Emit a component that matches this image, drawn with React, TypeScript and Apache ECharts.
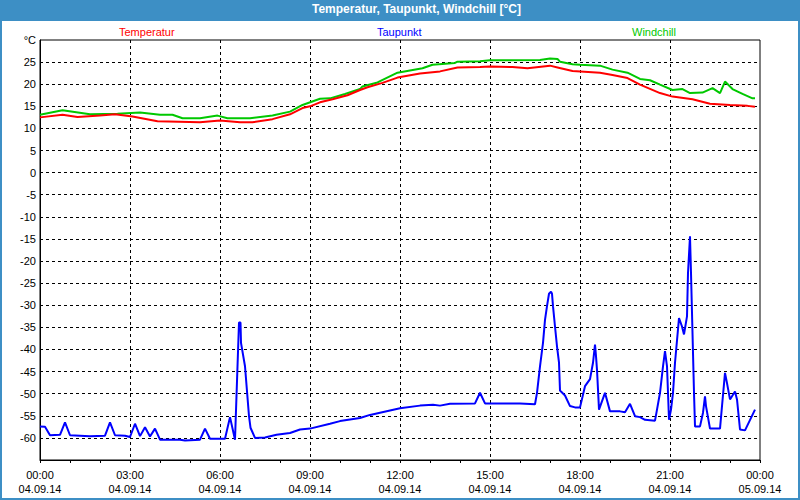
import React, { useEffect, useRef } from "react";
import * as echarts from "echarts";

// ---- data ----
const titleText = "Temperatur, Taupunkt, Windchill [°C]";
const seriesNames = ["Temperatur", "Taupunkt", "Windchill"];

const xTickTimes = ["00:00", "03:00", "06:00", "09:00", "12:00", "15:00", "18:00", "21:00", "00:00"];
const xTickDates = ["04.09.14", "04.09.14", "04.09.14", "04.09.14", "04.09.14", "04.09.14", "04.09.14", "04.09.14", "05.09.14"];
const yUnitLabel = "°C";

const tempTimes = ["00:00","00:45","01:15","02:00","02:30","03:05","03:55","05:20","06:00","06:40","07:05","07:45","08:20","08:45","09:00","09:20","09:45","10:15","10:40","10:55","11:25","11:55","12:40","13:20","13:55","14:40","15:00","15:45","16:15","17:00","17:15","17:45","18:40","19:05","19:35","20:00","20:40","21:05","21:45","22:20","23:00","23:35","23:50"];
const tempValues = [12.5,13.1,12.6,12.9,13.2,12.7,11.6,11.4,11.8,11.4,11.4,12.1,13.2,14.6,15.0,15.9,16.6,17.5,18.7,19.3,20.3,21.5,22.4,22.9,23.8,23.9,24.0,23.9,23.6,24.2,23.8,23.0,22.6,22.1,21.4,19.9,18.0,17.2,16.6,15.6,15.3,15.1,14.9];

const chillTimes = ["00:00","00:45","01:40","02:35","03:20","04:00","04:25","04:45","05:20","05:55","06:15","07:00","07:45","08:20","08:45","09:20","09:40","10:10","10:40","10:45","11:15","11:55","12:45","13:05","13:50","13:55","14:40","15:00","16:40","17:00","17:15","17:20","17:45","18:00","18:40","19:05","19:35","20:00","20:20","20:40","21:05","21:25","21:40","22:05","22:25","22:40","22:50","23:05","23:25","23:45","23:50"];
const chillValues = [13.1,14.1,13.2,13.3,13.6,13.1,13.1,12.3,12.3,12.9,12.3,12.3,12.9,13.8,15.3,16.7,16.8,17.8,18.9,19.5,20.4,22.6,23.6,24.4,24.8,25.1,25.2,25.4,25.5,25.8,25.7,25.1,24.5,24.4,24.2,23.3,22.6,21.2,20.9,19.9,18.7,18.9,18.0,18.1,19.1,18.0,20.6,18.9,17.8,16.8,16.8];

const dewTimes = ["00:00","00:10","00:20","00:40","00:50","01:00","01:20","01:40","02:10","02:20","02:30","02:50","03:00","03:10","03:20","03:30","03:40","03:50","04:00","04:40","04:50","05:20","05:30","05:40","06:10","06:20","06:30","06:38","06:41","06:42","06:50","06:58","07:01","07:10","07:30","07:53","08:20","08:40","09:00","09:40","10:00","10:40","11:00","11:40","12:00","12:40","13:06","13:20","13:40","14:30","14:40","14:50","16:00","16:30","16:34","16:40","16:46","16:50","16:54","16:58","17:02","17:04","17:06","17:10","17:14","17:18","17:20","17:30","17:40","17:50","18:00","18:10","18:20","18:26","18:30","18:32","18:34","18:38","18:50","19:00","19:20","19:30","19:40","19:50","20:00","20:10","20:30","20:34","20:40","20:46","20:50","20:54","20:56","20:58","21:02","21:06","21:10","21:18","21:24","21:28","21:34","21:36","21:40","21:42","21:44","21:46","21:48","21:50","22:00","22:06","22:10","22:12","22:20","22:40","22:44","22:50","22:54","23:00","23:10","23:14","23:20","23:30","23:50"];
const dewValues = [-57.4,-57.5,-59.4,-59.3,-56.5,-59.4,-59.5,-59.6,-59.5,-56.5,-59.4,-59.5,-59.8,-56.8,-59.6,-57.6,-59.7,-57.9,-60.4,-60.4,-60.6,-60.4,-57.9,-60.2,-60.2,-55.3,-60.4,-33.9,-33.9,-38.5,-43.8,-55.1,-57.7,-60.0,-59.9,-59.3,-58.9,-58.1,-57.9,-56.8,-56.2,-55.5,-54.8,-53.8,-53.3,-52.7,-52.5,-52.7,-52.3,-52.2,-49.8,-52.2,-52.2,-52.4,-49.8,-43.8,-38.5,-33.3,-30.2,-27.4,-26.9,-27.4,-30.2,-34.8,-39.3,-43.0,-49.3,-50.4,-52.8,-53.1,-53.1,-48.3,-46.7,-43.0,-38.9,-41.5,-44.6,-53.6,-49.8,-54.0,-54.0,-54.2,-52.3,-55.1,-55.3,-55.9,-56.1,-53.6,-49.8,-43.8,-40.4,-43.8,-49.8,-55.9,-53.6,-49.8,-43.0,-32.9,-34.8,-36.6,-32.5,-22.7,-14.4,-22.7,-31.7,-40.8,-49.8,-57.4,-57.4,-54.3,-50.6,-52.8,-57.9,-57.9,-52.8,-45.3,-47.6,-51.3,-49.5,-51.3,-58.1,-58.3,-53.6];

// ---- helpers ----
const toMin = (s: string) => {
  const [h, m] = s.split(":").map(Number);
  return h * 60 + m;
};
const pairs = (times: string[], values: number[]) => times.map((t, i) => [toMin(t), values[i]]);

const FONT = "'Liberation Sans', Arial, sans-serif";

export default function App() {
  const ref = useRef<HTMLDivElement>(null);
  useEffect(() => {
    document.body.style.margin = "0";
    if (!ref.current) return;
    const chart = echarts.init(ref.current, undefined, { renderer: "svg" });
    const colors = ["#ff0000", "#0000ff", "#00c800"];
    const legendLefts = [114, 372, 627];
    chart.setOption({
      animation: false,
      backgroundColor: "#ffffff",
      title: {
        text: titleText,
        left: 312,
        top: 3,
        padding: 0,
        textStyle: { color: "#ffffff", fontSize: 12, fontWeight: "bold", fontFamily: FONT },
      },
      graphic: [
        { type: "rect", z: -10, shape: { x: 0, y: 0, width: 800, height: 21 }, style: { fill: "#3d8fc5" } },
        { type: "rect", z: 100, shape: { x: 1, y: 0, width: 798, height: 499 }, style: { fill: "none", stroke: "#3d8fc5", lineWidth: 2 } },
      ],
      legend: seriesNames.map((n, i) => ({
        left: legendLefts[i],
        top: 26,
        padding: 0,
        itemWidth: 0,
        itemHeight: 0,
        selectedMode: false,
        icon: "rect",
        data: [{ name: n, textStyle: { color: colors[i] } }],
        textStyle: { color: colors[i], fontSize: 11, fontFamily: FONT },
      })),
      grid: {
        left: 40,
        top: 40,
        width: 720,
        height: 420,
        show: true,
        borderColor: "#000",
        borderWidth: 1,
        backgroundColor: "#ffffff",
        containLabel: false,
      },
      xAxis: {
        type: "value",
        min: 0,
        max: 1440,
        interval: 180,
        axisLine: { show: true, onZero: false, lineStyle: { color: "#000", width: 1 } },
        axisTick: { show: true, length: 3, lineStyle: { color: "#000" } },
        minorTick: { show: true, splitNumber: 3, length: 3, lineStyle: { color: "#000" } },
        splitLine: { show: true, showMinLine: false, showMaxLine: false, lineStyle: { color: "#000", type: [3, 3], width: 1 } },
        axisLabel: {
          color: "#000",
          fontSize: 11,
          fontFamily: FONT,
          lineHeight: 14,
          margin: 8,
          formatter: (v: number) => {
            const i = Math.round(v / 180);
            return `${xTickTimes[i]}\n${xTickDates[i]}`;
          },
        },
      },
      yAxis: {
        type: "value",
        min: -65,
        max: 30,
        interval: 5,
        axisLine: { show: true, onZero: false, lineStyle: { color: "#000", width: 1 } },
        axisTick: { show: false },
        splitLine: { show: true, showMinLine: false, showMaxLine: false, lineStyle: { color: "#000", type: [3, 3], width: 1 } },
        axisLabel: {
          color: "#000",
          fontSize: 11,
          fontFamily: FONT,
          margin: 4,
          formatter: (v: number) => (v === 30 ? yUnitLabel : v === -65 ? "" : String(v)),
        },
      },
      series: [
        { name: seriesNames[2], type: "line", data: pairs(chillTimes, chillValues), showSymbol: false, lineStyle: { color: colors[2], width: 2 }, itemStyle: { color: colors[2] } },
        { name: seriesNames[0], type: "line", data: pairs(tempTimes, tempValues), showSymbol: false, lineStyle: { color: colors[0], width: 2 }, itemStyle: { color: colors[0] } },
        { name: seriesNames[1], type: "line", data: pairs(dewTimes, dewValues), showSymbol: false, lineStyle: { color: colors[1], width: 2 }, itemStyle: { color: colors[1] } },
      ],
    });
    return () => chart.dispose();
  }, []);
  return <div ref={ref} style={{ width: 800, height: 500 }} />;
}
